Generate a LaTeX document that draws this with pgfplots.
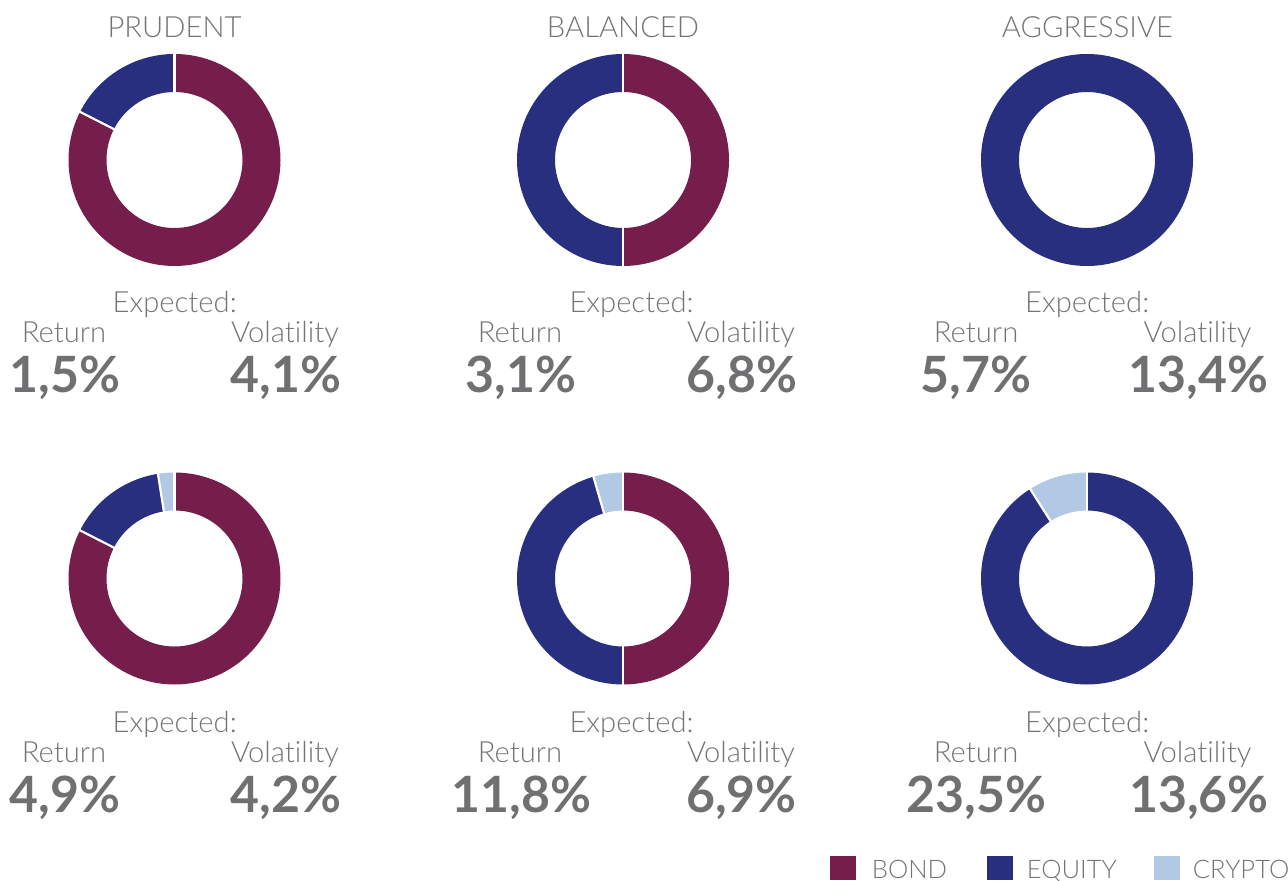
\documentclass[border=0pt]{standalone}
\usepackage{pgfplots}
\pgfplotsset{compat=1.18}
\usepackage{fontspec}
\setmainfont{Lato}[Ligatures=NoCommon]
\IfFontExistsTF{Lato Light}{\newfontfamily\lightfont{Lato Light}[Ligatures=NoCommon]}{\newcommand\lightfont{}}
\definecolor{bond}{RGB}{117,30,75}
\definecolor{equity}{RGB}{41,47,127}
\definecolor{crypto}{RGB}{178,201,230}
\definecolor{txt}{RGB}{116,116,116}
\definecolor{num}{RGB}{112,112,115}
% donut: centre x, centre y (pixels), list of share/colour (clockwise from top)
\newcommand\donut[3]{%
  \gdef\startang{90}%
  \foreach \v/\c in {#3}{%
    \pgfmathsetmacro\endang{\startang-3.6*\v}%
    \fill[fill=\c] (axis cs:#1,#2) ++(\startang:53pt)
      arc[start angle=\startang,end angle=\endang,radius=53pt]
      -- ++({\endang+180}:19pt)
      arc[start angle=\endang,end angle=\startang,radius=34pt] -- cycle;
    \xdef\startang{\endang}%
  }%
}
\newcommand\seps[3]{%
  \gdef\startang{90}%
  \foreach \v/\c in {#3}{%
    \draw[white,line width=1.1pt] (axis cs:#1,#2) ++(\startang:32pt) -- ++(\startang:23pt);
    \pgfmathsetmacro\endang{\startang-3.6*\v}%
    \xdef\startang{\endang}%
  }%
}
\tikzset{
  lab/.style={anchor=base,text=txt,inner sep=0pt,font=\lightfont\fontsize{14.6}{16}\selectfont},
  big/.style={anchor=base,text=num,inner sep=0pt,font=\fontsize{25}{28}\selectfont\bfseries},
  leg/.style={anchor=base west,text=txt,inner sep=0pt,font=\lightfont\fontsize{12.8}{14}\selectfont},
}
\begin{document}
\begin{tikzpicture}
\begin{axis}[at={(0,0)},anchor=south west,
  width=644pt,height=440.5pt,scale only axis,
  xmin=0,xmax=1288,ymin=0,ymax=881,y dir=reverse,
  hide axis,clip=false]
\addplot[draw=none] coordinates {(0,0)};
\pgfplotsextra{%
  \donut{174.5}{160}{82.5/bond,17.5/equity}
  \seps{174.5}{160}{82.5/bond,17.5/equity}
  \donut{623}{160}{50/bond,50/equity}
  \seps{623}{160}{50/bond,50/equity}
  \donut{1087}{160}{100/equity}
  \donut{174.5}{578.5}{82.5/bond,15/equity,2.5/crypto}
  \seps{174.5}{578.5}{82.5/bond,15/equity,2.5/crypto}
  \donut{623}{578.5}{50/bond,45.5/equity,4.5/crypto}
  \seps{623}{578.5}{50/bond,45.5/equity,4.5/crypto}
  \donut{1087}{578.5}{91/equity,9/crypto}
  \seps{1087}{578.5}{91/equity,9/crypto}
}
% titles
\node[lab] at (axis cs:174.5,38) {PRUDENT};
\node[lab] at (axis cs:623,38) {BALANCED};
\node[lab] at (axis cs:1087.5,38) {AGGRESSIVE};
% top row stats
\node[lab] at (axis cs:174.7,313) {Expected:};
\node[lab] at (axis cs:64,343) {Return};
\node[lab] at (axis cs:285,343) {Volatility};
\node[big] at (axis cs:65,393) {1,5\%};
\node[big] at (axis cs:286,393) {4,1\%};
\node[lab] at (axis cs:631.5,313) {Expected:};
\node[lab] at (axis cs:520,343) {Return};
\node[lab] at (axis cs:741,343) {Volatility};
\node[big] at (axis cs:521,393) {3,1\%};
\node[big] at (axis cs:742,393) {6,8\%};
\node[lab] at (axis cs:1087.2,313) {Expected:};
\node[lab] at (axis cs:976,343) {Return};
\node[lab] at (axis cs:1197.5,343) {Volatility};
\node[big] at (axis cs:976,393) {5,7\%};
\node[big] at (axis cs:1198.5,393) {13,4\%};
% bottom row stats
\node[lab] at (axis cs:174.7,732.5) {Expected:};
\node[lab] at (axis cs:64,762) {Return};
\node[lab] at (axis cs:285,762) {Volatility};
\node[big] at (axis cs:65,812) {4,9\%};
\node[big] at (axis cs:286,812) {4,2\%};
\node[lab] at (axis cs:631.5,732.5) {Expected:};
\node[lab] at (axis cs:520,762) {Return};
\node[lab] at (axis cs:741,762) {Volatility};
\node[big] at (axis cs:521.5,812) {11,8\%};
\node[big] at (axis cs:741.5,812) {6,9\%};
\node[lab] at (axis cs:1087.2,732.5) {Expected:};
\node[lab] at (axis cs:976,762) {Return};
\node[lab] at (axis cs:1197.5,762) {Volatility};
\node[big] at (axis cs:976.5,812) {23,5\%};
\node[big] at (axis cs:1199,812) {13,6\%};
% legend
\fill[bond] (axis cs:830,856) rectangle (axis cs:856,880);
\node[leg] at (axis cs:871.5,878) {BOND};
\fill[equity] (axis cs:986.5,856) rectangle (axis cs:1012.5,880);
\node[leg] at (axis cs:1026.5,878) {EQUITY};
\fill[crypto] (axis cs:1154,856) rectangle (axis cs:1180,880);
\node[leg] at (axis cs:1192.5,878) {CRYPTO};
\end{axis}
\pgfresetboundingbox
\useasboundingbox (current axis.south west) rectangle (current axis.north east);
\end{tikzpicture}
\end{document}
